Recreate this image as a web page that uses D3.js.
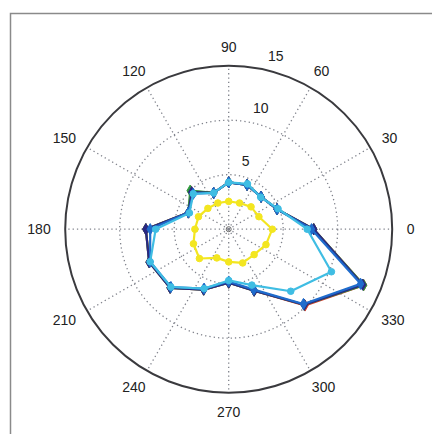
<!DOCTYPE html>
<html><head><meta charset="utf-8">
<script src="https://cdn.jsdelivr.net/npm/d3@7"></script>
<style>html,body{margin:0;padding:0;background:#fff;}svg{display:block;}</style>
</head><body>
<script>
const angles = [0, 22.5, 45, 67.5, 90, 112.5, 135, 157.5, 180, 202.5, 225, 247.5, 270, 292.5, 315, 337.5];
const redVals    = [7.8, 4.8, 4.2, 4.4, 4.3, 3.6, 4.9, 4.0, 7.6, 7.9, 7.6, 6.0, 4.9, 6.1, 9.9, 13.4];
const greenVals  = [7.8, 4.8, 4.2, 4.4, 4.3, 3.6, 5.0, 4.0, 7.6, 7.9, 7.6, 6.0, 4.9, 6.1, 9.8, 13.4];
const navyVals   = [7.8, 4.8, 4.2, 4.4, 4.3, 3.6, 4.8, 4.0, 7.6, 7.9, 7.6, 6.0, 4.9, 6.1, 9.8, 13.3];
const blueVals   = [7.6, 4.8, 4.2, 4.4, 4.3, 3.6, 4.6, 4.0, 7.2, 7.8, 7.5, 5.9, 4.8, 6.0, 9.7, 13.1];
const cyanVals   = [7.2, 4.9, 4.15, 4.5, 4.3, 3.6, 4.6, 3.9, 6.7, 7.8, 7.5, 5.9, 4.7, 5.55, 8.05, 10.2];
const yellowVals = [4.0, 3.0, 2.9, 2.6, 2.55, 2.6, 2.7, 3.0, 3.1, 3.5, 3.8, 2.85, 3.0, 3.35, 3.3, 3.7];
const angleTicks = [0, 30, 60, 90, 120, 150, 180, 210, 240, 270, 300, 330];
const radialTicks = [5, 10, 15];

const series = [
  {name: "red", vals: redVals, color: "#d8352a", marker: "diamond"},
  {name: "green", vals: greenVals, color: "#2f9a3c", marker: "diamond"},
  {name: "navy", vals: navyVals, color: "#2a2883", marker: "diamond"},
  {name: "blue", vals: blueVals, color: "#1f6ccc", marker: "diamond"},
  {name: "cyan", vals: cyanVals, color: "#3fbde3", marker: "circle"},
  {name: "yellow", vals: yellowVals, color: "#f3e620", marker: "circle"}
];

const W = 432, H = 434, cx = 228.7, cy = 229.2;
const svg = d3.select("body").append("svg").attr("width", W).attr("height", H);
const r = d3.scaleLinear().domain([0, 15]).range([0, 163.5]);
const toRad = d => d * Math.PI / 180;
const px = (a, v) => cx + r(v) * Math.cos(toRad(a));
const py = (a, v) => cy - r(v) * Math.sin(toRad(a));

// frame
svg.append("path").attr("d", `M10.5,${H} L10.5,13.5 L${W},13.5`)
  .attr("fill", "none").attr("stroke", "#8a8a8a").attr("stroke-width", 1.5);

const g = svg.append("g");
[5, 10].forEach(v => {
  g.append("circle").attr("cx", cx).attr("cy", cy).attr("r", r(v))
    .attr("fill", "none").attr("stroke", "#80838c").attr("stroke-width", 1.3)
    .attr("stroke-dasharray", "1.3,3");
});
angleTicks.forEach(a => {
  g.append("line").attr("x1", cx).attr("y1", cy).attr("x2", px(a, 15)).attr("y2", py(a, 15))
    .attr("stroke", "#80838c").attr("stroke-width", 1.3).attr("stroke-dasharray", "1.3,3");
});
g.append("circle").attr("cx", cx).attr("cy", cy).attr("r", r(15))
  .attr("fill", "none").attr("stroke", "#3a3a3e").attr("stroke-width", 2);
g.append("circle").attr("cx", cx).attr("cy", cy).attr("r", 2.5)
  .attr("fill", "none").attr("stroke", "#666").attr("stroke-width", 1);

angleTicks.forEach(a => {
  const t = svg.append("text").text(a).attr("font-family", "Liberation Sans, Arial, sans-serif")
    .attr("font-size", 14).attr("fill", "#222").attr("text-anchor", "middle")
    .attr("dominant-baseline", "central");
  const w = t.node().getComputedTextLength();
  const c = Math.cos(toRad(a)), s = Math.sin(toRad(a));
  const rr = 181;
  t.attr("x", cx + rr * c + c * Math.max(0, w / 2 - 3)).attr("y", cy - rr * s - s * 1.5);
});
radialTicks.forEach(v => {
  svg.append("text").text(v).attr("font-family", "Liberation Sans, Arial, sans-serif")
    .attr("font-size", 14).attr("fill", "#222").attr("text-anchor", "middle")
    .attr("dominant-baseline", "central")
    .attr("x", px(74, v) + 2).attr("y", py(74, v) - 16);
});

const line = d3.line().x(d => px(d.a, d.v)).y(d => py(d.a, d.v)).curve(d3.curveLinearClosed);
const symDiamond = d3.symbol().type(d3.symbolDiamond).size(36);
const symCircle = d3.symbol().type(d3.symbolCircle).size(34);
series.forEach(s => {
  const pts = angles.map((a, i) => ({a, v: s.vals[i]}));
  const sg = svg.append("g").attr("class", "series-" + s.name);
  sg.append("path").attr("d", line(pts)).attr("fill", "none")
    .attr("stroke", s.color).attr("stroke-width", 2.2).attr("stroke-linejoin", "round");
  sg.selectAll("path.m").data(pts).enter().append("path").attr("class", "m")
    .attr("d", s.marker === "circle" ? symCircle : symDiamond)
    .attr("transform", d => `translate(${px(d.a, d.v)},${py(d.a, d.v)})`)
    .attr("fill", s.color).attr("stroke", s.color).attr("stroke-width", 1);
});
</script>
</body></html>
